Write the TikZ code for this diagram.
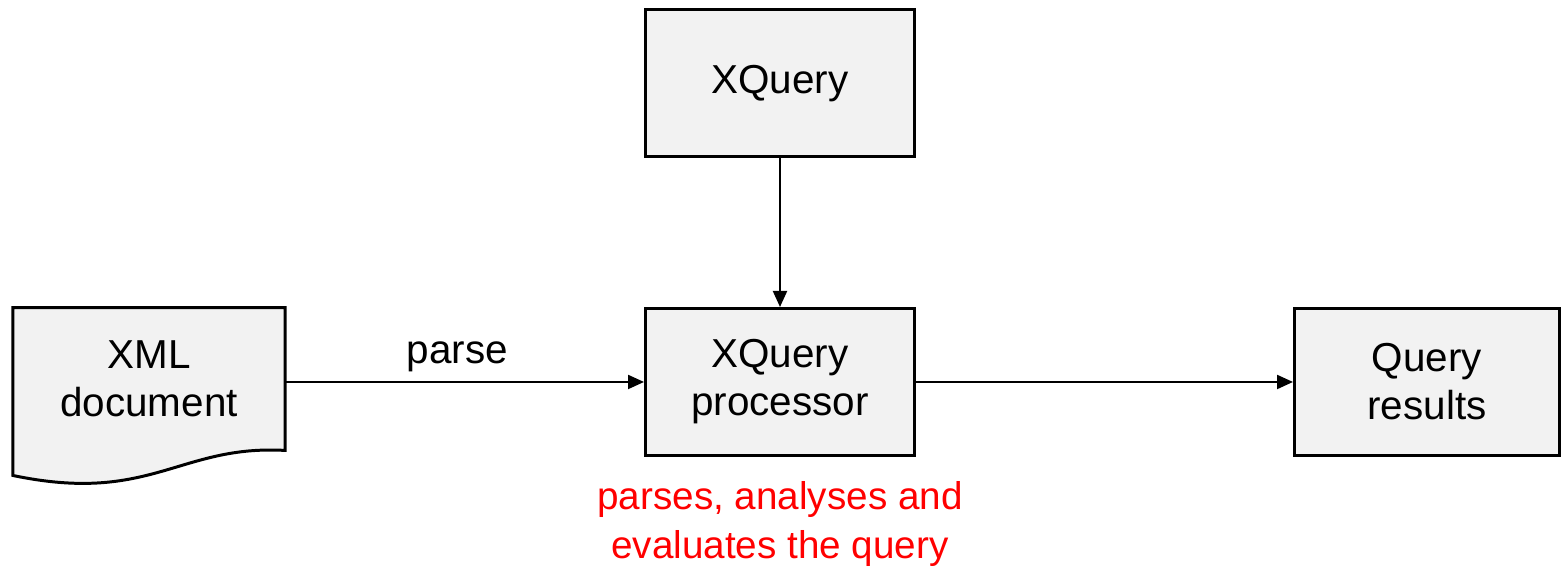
\documentclass[tikz,border=0pt]{standalone}
\usepackage{xcolor}
\usepackage{fontspec}
\setmainfont{Liberation Sans}
\usepackage{tikz}
\usetikzlibrary{positioning, arrows.meta, backgrounds}

\definecolor{boxfill}{HTML}{F2F2F2}

\begin{document}
\begin{tikzpicture}[
    block/.style={draw, line width=0.85pt, fill=boxfill, minimum width=2.69cm, minimum height=1.47cm, inner sep=0pt, align=center, font=\fontsize{11.5}{13.7}\selectfont},
    flow/.style={line width=0.6pt, -{Triangle[length=0.16cm, width=0.14cm]}}
]
\useasboundingbox (0, 0) rectangle (15.61, 5.67);

\node[block] (query) at (7.80, 4.835) {XQuery};
\node[block] (proc) at (7.80, 1.85) {XQuery \\ processor};
\node[block, minimum width=2.65cm] (results) at (14.27, 1.85) {Query \\ results};
\node[minimum width=2.71cm, minimum height=1.415cm, inner sep=0pt, align=center, font=\fontsize{11.5}{13.7}\selectfont] (doc) at (1.49, 1.88) {XML \\ document};
\begin{scope}[on background layer]
\draw[line width=0.85pt, fill=boxfill] (doc.north west) -- (doc.north east) -- (doc.south east)
    .. controls +(-1.06, 0.06) and +(1.38, -0.29) .. ([yshift=-0.25cm]doc.south west) -- cycle;
\end{scope}

\node[text=red, align=center, font=\fontsize{11}{13.7}\selectfont] (note) at (7.80, 0.43) {parses, analyses and \\ evaluates the query};

\draw[flow] (query) -- (proc);
\draw[flow] (doc.east |- proc.west) -- node[above, pos=0.48, inner sep=2.5pt, font=\fontsize{11.5}{13.7}\selectfont] {parse} (proc.west);
\draw[flow] (proc) -- (results);
\end{tikzpicture}
\end{document}
